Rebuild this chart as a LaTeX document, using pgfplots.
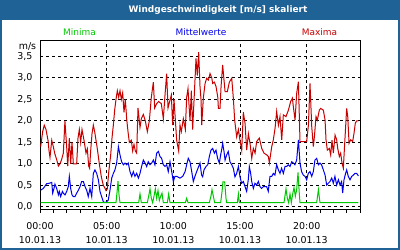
\documentclass[border=0pt]{standalone}
\usepackage{pgfplots}
\pgfplotsset{compat=1.18}
\usepackage{fontspec}
\setmainfont{DejaVu Sans}
\definecolor{framebl}{RGB}{31,98,150}
\definecolor{minc}{RGB}{0,200,0}
\definecolor{meanc}{RGB}{0,0,235}
\definecolor{maxc}{RGB}{200,0,0}
\begin{document}
\begin{tikzpicture}[x=1bp,y=1bp]
\useasboundingbox (0,0) rectangle (400,250);
% frame and title bar
\fill[framebl] (0,0) rectangle (400,250);
\fill[white] (2,2) rectangle (398,230);
\node[text=white,font=\fontsize{9}{11}\selectfont\bfseries] at (218,240) {Windgeschwindigkeit [m/s] skaliert};
% series captions
\node[text=minc,font=\fontsize{9}{11}\selectfont] at (79.5,218) {Minima};
\node[text=meanc,font=\fontsize{9}{11}\selectfont] at (201,218) {Mittelwerte};
\node[text=maxc,font=\fontsize{9}{11}\selectfont] at (319.5,218) {Maxima};
\node[font=\fontsize{9.5}{11}\selectfont] at (27.5,204) {m/s};
\begin{axis}[
  at={(40bp,40.5bp)}, anchor=south west,
  scale only axis, width=320bp, height=169.5bp,
  xmin=0, xmax=24, ymin=-0.06, ymax=3.88,
  axis line style={black, line width=1bp},
  xtick={0,5,10,15,20}, minor xtick={1,2,3,4,6,7,8,9,11,12,13,14,16,17,18,19,21,22,23,24},
  xticklabels={{00:00\\10.01.13},{05:00\\10.01.13},{10:00\\10.01.13},{15:00\\10.01.13},{20:00\\10.01.13}},
  xticklabel style={align=center, font=\fontsize{9.5}{15}\selectfont, yshift=-6bp},
  ytick={0,0.5,1,1.5,2,2.5,3,3.5},
  yticklabels={{0,0},{0,5},{1,0},{1,5},{2,0},{2,5},{3,0},{3,5}},
  yticklabel style={font=\fontsize{9.5}{11}\selectfont, xshift=-1bp},
  tick align=outside, xtick pos=bottom, ytick pos=left,
  major tick length=3bp, minor tick length=3bp,
  tick style={black, line width=1bp},
  ytick style={draw=none},
  xmajorgrids, ymajorgrids,
  major grid style={black, line width=1bp, dash pattern=on 3bp off 3bp},
  clip=true,
]
% Maxima
\addplot[maxc, line width=1bp, mark=none] coordinates {
(0.05,1.4)(0.2,1.75)(0.32,1.9)(0.45,1.8)(0.6,1.55)(0.68,1.3)(0.75,1.15)(0.88,1.55)
(1.0,1.4)(1.1,1.25)(1.25,1.1)(1.38,0.95)(1.5,1.0)(1.62,1.1)(1.75,1.25)(1.87,2.0)
(2.0,1.4)(2.08,0.95)(2.2,1.6)(2.3,1.0)(2.4,1.5)(2.5,1.0)(2.6,1.0)(2.75,1.0)(2.85,1.6)(2.95,1.8)
(3.05,1.5)(3.15,1.8)(3.3,1.55)(3.45,1.25)(3.55,1.35)(3.65,0.95)(3.72,0.9)(3.8,1.3)(3.9,1.7)
(4.0,1.9)(4.1,1.75)(4.2,1.55)(4.3,1.35)(4.45,1.0)(4.6,0.7)(4.75,0.5)(4.85,0.45)(4.95,0.38)
(5.05,0.42)(5.15,0.8)(5.3,1.2)(5.4,1.6)(5.5,1.9)(5.6,2.25)(5.7,2.5)(5.8,2.7)(5.9,2.55)
(6.0,2.7)(6.1,2.5)(6.2,2.65)(6.3,2.2)(6.4,2.5)(6.5,2.05)(6.6,1.75)(6.7,1.5)(6.85,1.55)(6.95,1.3)
(7.05,1.45)(7.15,1.3)(7.25,1.25)(7.35,2.3)(7.5,1.85)(7.6,2.05)(7.75,2.15)(7.9,2.0)
(8.05,1.75)(8.2,2.0)(8.35,2.55)(8.5,2.9)(8.6,2.3)(8.75,2.4)(8.9,2.45)
(9.1,2.4)(9.25,2.05)(9.4,2.7)(9.5,3.1)(9.6,2.3)(9.85,2.6)(9.95,1.9)
(10.05,2.5)(10.25,1.55)(10.4,1.3)(10.5,1.9)(10.6,1.75)(10.75,2.05)(10.9,1.8)
(11.0,2.55)(11.1,2.75)(11.25,2.0)(11.35,2.7)(11.45,1.8)(11.7,3.45)(11.8,3.05)(11.9,3.6)
(12.0,2.8)(12.08,2.48)(12.13,1.9)(12.25,2.53)(12.38,2.87)(12.5,2.99)(12.63,2.95)(12.75,3.1)(12.88,3.0)(12.95,2.87)
(13.08,2.9)(13.2,2.8)(13.33,2.56)(13.38,2.29)(13.5,2.29)(13.58,2.8)(13.7,3.3)(13.8,2.95)(13.88,2.68)
(14.05,2.68)(14.2,2.9)(14.38,2.99)(14.5,2.53)(14.6,2.02)(14.75,1.63)(14.88,1.8)
(15.0,1.55)(15.13,1.32)(15.25,2.2)(15.38,1.94)(15.5,1.32)(15.63,1.7)(15.75,1.48)(15.88,1.13)
(16.0,1.36)(16.13,1.25)(16.25,1.52)(16.45,1.6)(16.63,1.36)(16.8,1.25)
(17.0,1.21)(17.13,1.17)(17.2,1.02)(17.38,1.4)(17.5,1.56)(17.63,1.83)(17.75,2.22)(17.88,1.9)
(18.0,2.1)(18.13,1.56)(18.25,2.14)(18.45,2.1)(18.63,2.25)(18.8,2.45)(18.93,2.53)
(19.0,2.33)(19.13,2.02)(19.25,2.64)(19.38,2.91)(19.5,1.52)(19.75,1.52)
(20.0,1.52)(20.13,1.9)(20.25,2.87)(20.38,1.87)(20.5,1.4)(20.58,1.63)(20.7,2.1)(20.8,2.02)(20.95,2.25)
(21.05,2.29)(21.25,2.25)(21.38,2.02)(21.45,1.56)(21.55,1.32)(21.7,1.36)(21.8,1.21)(21.9,1.55)
(22.0,1.25)(22.13,1.67)(22.25,1.56)(22.33,1.36)(22.45,1.17)(22.55,1.25)(22.65,1.02)(22.75,0.9)(22.88,1.63)
(23.0,2.29)(23.08,2.1)(23.18,1.48)(23.3,1.56)(23.45,1.52)(23.55,1.71)(23.65,1.95)(23.75,2.0)(23.88,2.0)
};
% Mittelwerte
\addplot[meanc, line width=1bp, mark=none] coordinates {
(0.05,0.39)(0.25,0.43)(0.5,0.54)(0.7,0.55)(0.88,0.57)(0.95,0.32)
(1.05,0.43)(1.12,0.53)(1.25,0.43)(1.38,0.28)(1.45,0.36)(1.55,0.24)(1.68,0.36)(1.75,0.32)(1.88,0.28)
(2.0,0.36)(2.12,0.47)(2.2,0.71)(2.3,0.43)(2.4,0.28)(2.5,0.24)(2.62,0.24)(2.75,0.32)(2.88,0.39)
(3.0,0.47)(3.12,0.59)(3.25,0.59)(3.38,0.47)(3.5,0.39)(3.62,0.24)(3.75,0.43)(3.88,0.24)
(4.0,0.78)(4.12,0.86)(4.25,0.78)(4.38,0.63)(4.5,0.36)(4.62,0.24)(4.75,0.12)(4.88,0.1)
(5.0,0.12)(5.12,0.16)(5.25,0.39)(5.38,0.67)(5.5,0.78)(5.62,0.86)(5.75,1.02)(5.88,1.4)
(6.0,1.21)(6.12,1.05)(6.25,0.98)(6.38,1.02)(6.5,0.98)(6.62,1.02)(6.75,0.82)(6.88,0.71)
(7.0,0.82)(7.12,0.71)(7.25,0.78)(7.38,0.67)(7.5,0.78)(7.62,0.94)(7.75,1.09)(7.88,1.02)
(8.0,0.94)(8.12,1.05)(8.25,0.98)(8.38,1.02)(8.5,1.09)(8.62,0.98)(8.75,1.25)(8.88,1.29)
(9.0,1.17)(9.12,1.13)(9.25,0.98)(9.38,0.94)(9.5,0.98)(9.62,0.82)(9.75,1.05)(9.88,0.82)
(10.0,0.59)(10.12,0.71)(10.25,0.71)(10.5,0.67)(10.7,0.71)(10.88,0.82)
(11.0,0.98)(11.12,1.13)(11.25,1.05)(11.38,0.82)(11.5,0.59)(11.62,0.71)(11.75,0.82)
(12.0,1.02)(12.12,0.74)(12.2,0.7)(12.3,0.86)(12.45,0.94)(12.58,0.98)(12.7,1.17)(12.82,1.32)(12.95,1.36)
(13.08,1.25)(13.2,1.32)(13.32,1.13)(13.45,1.02)(13.55,1.21)(13.62,1.32)(13.7,1.48)(13.8,1.29)(13.88,1.09)
(14.0,1.21)(14.12,1.29)(14.25,1.05)(14.38,0.98)(14.5,0.9)(14.62,0.7)(14.75,0.78)(14.88,0.94)
(15.0,0.7)(15.12,0.55)(15.25,0.59)(15.38,0.47)(15.5,0.36)(15.62,0.63)(15.7,0.94)(15.8,0.78)(15.88,0.59)
(16.0,0.43)(16.12,0.55)(16.25,0.51)(16.38,0.59)(16.5,0.47)(16.62,0.43)(16.75,0.47)(16.88,0.47)
(17.0,0.47)(17.12,0.36)(17.25,0.71)(17.38,0.71)(17.5,0.78)(17.62,0.74)(17.75,0.98)(17.88,0.86)
(18.0,0.78)(18.12,0.9)(18.25,0.78)(18.38,0.94)(18.5,0.94)(18.62,0.98)(18.75,0.94)(18.88,1.05)
(19.0,1.02)(19.12,0.98)(19.25,1.09)(19.38,1.56)(19.5,1.02)(19.62,0.82)(19.75,0.74)(19.88,0.71)
(20.0,0.63)(20.12,0.78)(20.25,0.82)(20.38,0.71)(20.5,0.82)(20.62,1.09)(20.75,1.13)(20.88,0.98)
(21.0,1.02)(21.12,0.98)(21.25,0.86)(21.38,0.74)(21.5,0.51)(21.62,0.55)(21.75,0.59)(21.88,0.67)
(22.0,0.55)(22.12,0.71)(22.25,0.51)(22.38,0.63)(22.5,0.51)(22.62,0.59)(22.7,0.32)(22.8,0.63)(22.92,0.78)
(23.0,0.86)(23.12,0.71)(23.25,0.63)(23.38,0.71)(23.5,0.74)(23.62,0.78)(23.75,0.78)(23.88,0.72)
};
% Minima
\addplot[minc, line width=1bp, mark=none] coordinates {
(0.05,0.1)(5.7,0.1)(5.78,0.35)(5.85,0.6)(5.92,0.3)(6.0,0.1)
(7.4,0.1)(7.5,0.3)(7.6,0.1)
(8.05,0.1)(8.15,0.25)(8.25,0.42)(8.35,0.2)(8.45,0.1)(8.55,0.25)(8.65,0.42)(8.75,0.2)(8.85,0.38)(8.95,0.15)
(9.05,0.25)(9.15,0.32)(9.25,0.1)(9.55,0.1)(9.65,0.3)(9.75,0.1)
(10.9,0.1)(11.0,0.2)(11.1,0.1)
(12.7,0.1)(12.82,0.25)(12.9,0.4)(13.0,0.25)(13.1,0.1)
(13.55,0.1)(13.65,0.35)(13.72,0.58)(13.85,0.58)(13.95,0.2)(14.0,0.1)
(14.8,0.1)(14.88,0.3)(14.95,0.1)
(18.3,0.1)(18.45,0.42)(18.55,0.2)(18.65,0.1)(18.75,0.3)(18.85,0.1)(18.95,0.3)(19.05,0.45)(19.15,0.25)(19.25,0.4)(19.35,0.8)(19.45,0.3)(19.5,0.1)
(20.75,0.1)(20.88,0.4)(21.0,0.1)(23.88,0.1)
};
\end{axis}
\end{tikzpicture}
\end{document}
